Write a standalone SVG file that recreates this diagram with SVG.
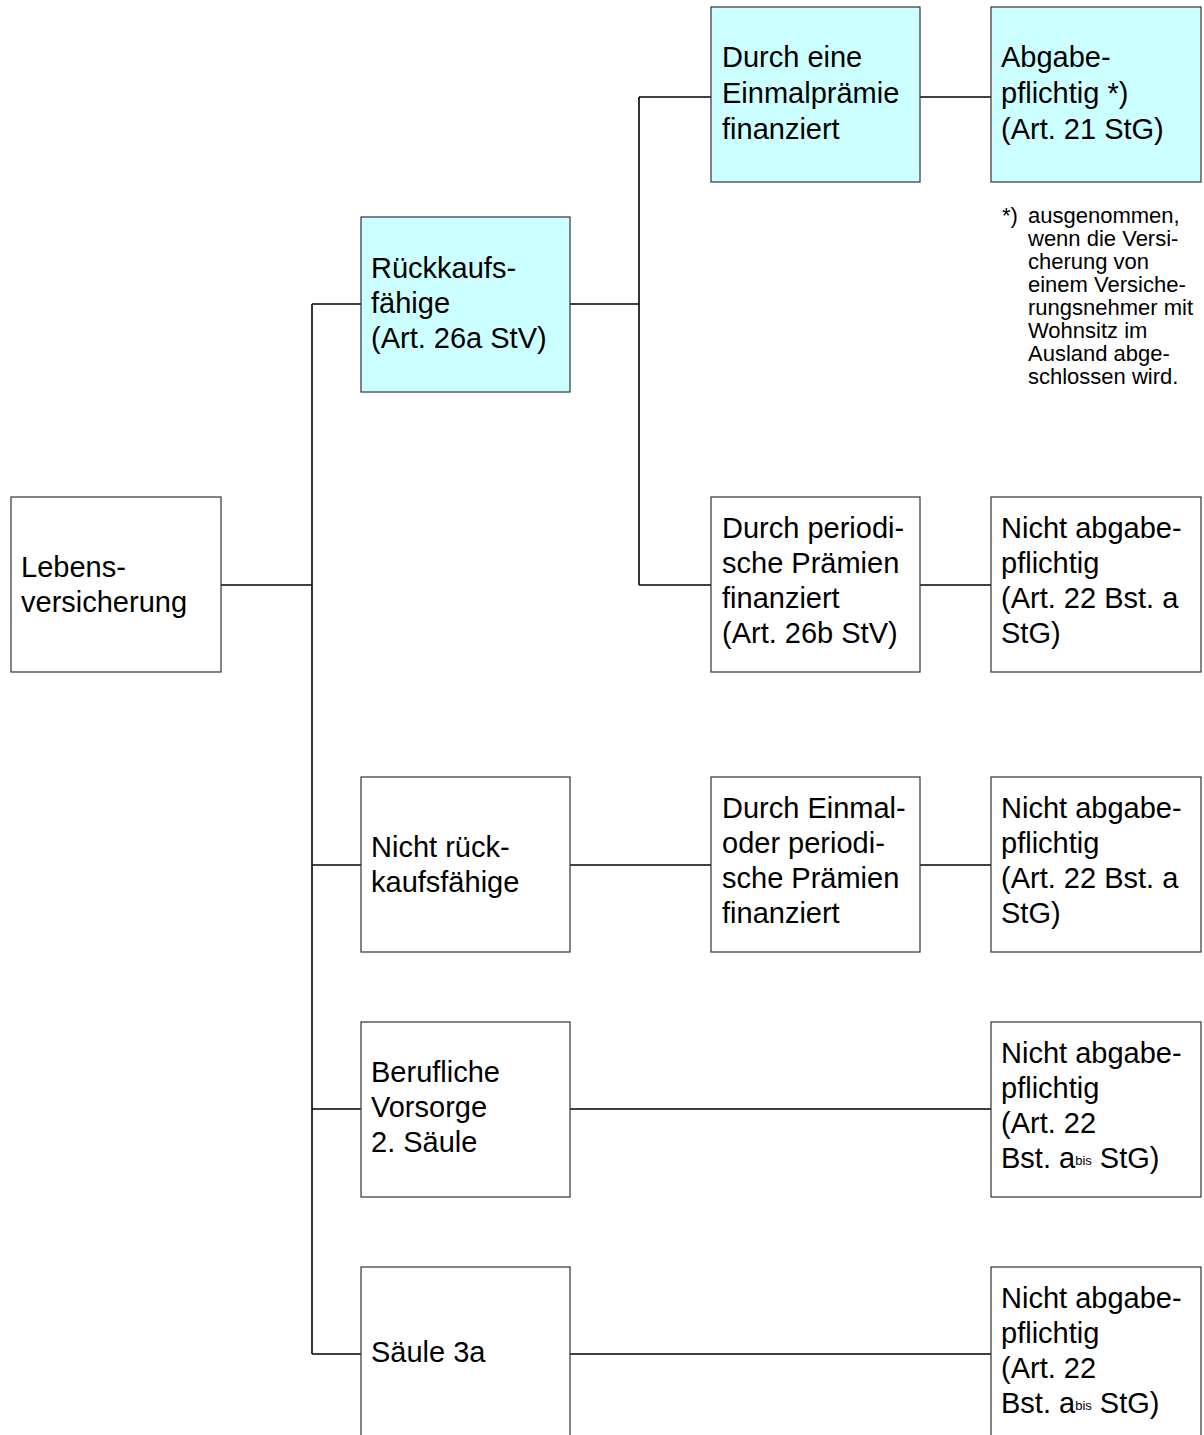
<svg xmlns="http://www.w3.org/2000/svg" width="1204" height="1435" viewBox="0 0 1204 1435">
<style>
.box{fill:#fff;stroke:#333;stroke-width:1.2}
.cyan{fill:#ccffff}
.t{font-family:"Liberation Sans",Arial,sans-serif;font-size:29px;fill:#000}
.fn{font-family:"Liberation Sans",Arial,sans-serif;font-size:22px;fill:#000}
.sup{font-size:13px}
#connectors line{stroke:#000;stroke-width:1.6}
</style>
<rect width="1204" height="1435" fill="#fff"/>
<g id="connectors">
<line x1="221" y1="585" x2="312" y2="585"/>
<line x1="312" y1="304" x2="312" y2="1354"/>
<line x1="312" y1="304" x2="361" y2="304"/>
<line x1="312" y1="865" x2="361" y2="865"/>
<line x1="312" y1="1109" x2="361" y2="1109"/>
<line x1="312" y1="1354" x2="361" y2="1354"/>
<line x1="570" y1="304" x2="639" y2="304"/>
<line x1="639" y1="97" x2="639" y2="585"/>
<line x1="639" y1="97" x2="711" y2="97"/>
<line x1="639" y1="585" x2="711" y2="585"/>
<line x1="920" y1="97" x2="991" y2="97"/>
<line x1="920" y1="585" x2="991" y2="585"/>
<line x1="570" y1="865" x2="711" y2="865"/>
<line x1="920" y1="865" x2="991" y2="865"/>
<line x1="570" y1="1109" x2="991" y2="1109"/>
<line x1="570" y1="1354" x2="991" y2="1354"/>
</g>
<g id="lebensversicherung">
<rect class="box" x="11" y="497" width="210" height="175"/>
<text class="t"><tspan x="21" y="577">Lebens-</tspan><tspan x="21" y="612">versicherung</tspan></text>
</g>
<g id="rueckkaufsfaehige">
<rect class="box cyan" x="361" y="217" width="209" height="175"/>
<text class="t"><tspan x="371" y="278">Rückkaufs-</tspan><tspan x="371" y="313">fähige</tspan><tspan x="371" y="348">(Art. 26a StV)</tspan></text>
</g>
<g id="nicht-rueckkaufsfaehige">
<rect class="box" x="361" y="777" width="209" height="175"/>
<text class="t"><tspan x="371" y="857">Nicht rück-</tspan><tspan x="371" y="892">kaufsfähige</tspan></text>
</g>
<g id="berufliche-vorsorge">
<rect class="box" x="361" y="1022" width="209" height="175"/>
<text class="t"><tspan x="371" y="1082">Berufliche</tspan><tspan x="371" y="1117">Vorsorge</tspan><tspan x="371" y="1152">2. Säule</tspan></text>
</g>
<g id="saeule-3a">
<rect class="box" x="361" y="1267" width="209" height="175"/>
<text class="t" x="371" y="1362">Säule 3a</text>
</g>
<g id="einmalpraemie">
<rect class="box cyan" x="711" y="7" width="209" height="175"/>
<text class="t"><tspan x="722" y="67">Durch eine</tspan><tspan x="722" y="103">Einmalprämie</tspan><tspan x="722" y="139">finanziert</tspan></text>
</g>
<g id="periodische-praemien">
<rect class="box" x="711" y="497" width="209" height="175"/>
<text class="t"><tspan x="722" y="538">Durch periodi-</tspan><tspan x="722" y="573">sche Prämien</tspan><tspan x="722" y="608">finanziert</tspan><tspan x="722" y="643">(Art. 26b StV)</tspan></text>
</g>
<g id="einmal-oder-periodisch">
<rect class="box" x="711" y="777" width="209" height="175"/>
<text class="t"><tspan x="722" y="818">Durch Einmal-</tspan><tspan x="722" y="853">oder periodi-</tspan><tspan x="722" y="888">sche Prämien</tspan><tspan x="722" y="923">finanziert</tspan></text>
</g>
<g id="abgabepflichtig">
<rect class="box cyan" x="991" y="7" width="210" height="175"/>
<text class="t"><tspan x="1001" y="67">Abgabe-</tspan><tspan x="1001" y="103">pflichtig *)</tspan><tspan x="1001" y="139">(Art. 21 StG)</tspan></text>
</g>
<g id="footnote">
<text class="fn"><tspan x="1002" y="223">*)</tspan><tspan x="1028" y="223">ausgenommen,</tspan><tspan x="1028" y="246">wenn die Versi-</tspan><tspan x="1028" y="269">cherung von</tspan><tspan x="1028" y="292">einem Versiche-</tspan><tspan x="1028" y="315">rungsnehmer mit</tspan><tspan x="1028" y="338">Wohnsitz im</tspan><tspan x="1028" y="361">Ausland abge-</tspan><tspan x="1028" y="384">schlossen wird.</tspan></text>
</g>
<g id="nicht-abgabepflichtig-1">
<rect class="box" x="991" y="497" width="210" height="175"/>
<text class="t"><tspan x="1001" y="538">Nicht abgabe-</tspan><tspan x="1001" y="573">pflichtig</tspan><tspan x="1001" y="608">(Art. 22 Bst. a</tspan><tspan x="1001" y="643">StG)</tspan></text>
</g>
<g id="nicht-abgabepflichtig-2">
<rect class="box" x="991" y="777" width="210" height="175"/>
<text class="t"><tspan x="1001" y="818">Nicht abgabe-</tspan><tspan x="1001" y="853">pflichtig</tspan><tspan x="1001" y="888">(Art. 22 Bst. a</tspan><tspan x="1001" y="923">StG)</tspan></text>
</g>
<g id="nicht-abgabepflichtig-3">
<rect class="box" x="991" y="1022" width="210" height="175"/>
<text class="t"><tspan x="1001" y="1063">Nicht abgabe-</tspan><tspan x="1001" y="1098">pflichtig</tspan><tspan x="1001" y="1133">(Art. 22</tspan><tspan x="1001" y="1168">Bst. a</tspan><tspan class="sup" dy="-3">bis</tspan><tspan dy="3"> StG)</tspan></text>
</g>
<g id="nicht-abgabepflichtig-4">
<rect class="box" x="991" y="1267" width="210" height="175"/>
<text class="t"><tspan x="1001" y="1308">Nicht abgabe-</tspan><tspan x="1001" y="1343">pflichtig</tspan><tspan x="1001" y="1378">(Art. 22</tspan><tspan x="1001" y="1413">Bst. a</tspan><tspan class="sup" dy="-3">bis</tspan><tspan dy="3"> StG)</tspan></text>
</g>
</svg>
